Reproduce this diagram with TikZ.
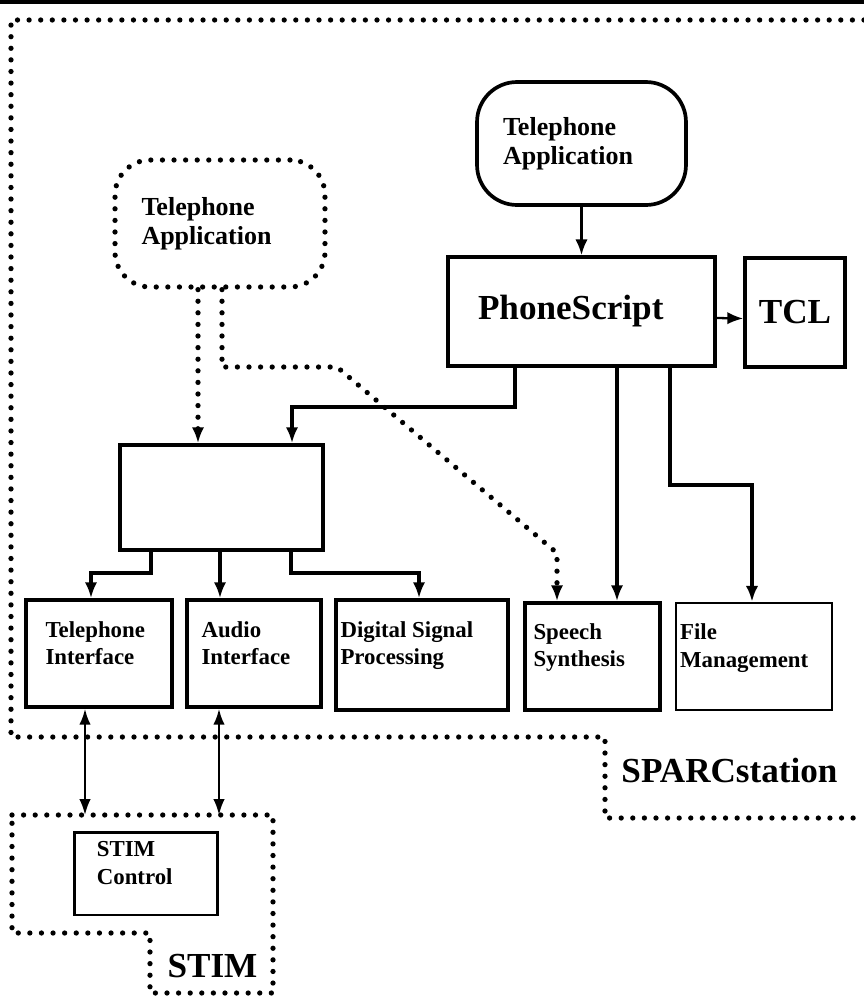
\documentclass[tikz,border=0pt]{standalone}
\usepackage{fontspec}
\setmainfont{Liberation Serif}
\usetikzlibrary{arrows.meta,positioning}

\begin{document}
\begin{tikzpicture}[x=0.02cm, y=-0.02cm, font=\bfseries,
		box_style/.style={rectangle,draw=black,line width=2.1pt,inner sep=0pt},
		app_style/.style={rectangle,draw=black,line width=2.1pt,rounded corners=0.8cm,inner sep=0pt,align=left,text width=3.14cm,font=\bfseries\fontsize{14.8}{16.5}\selectfont},
		txt_style/.style={inner sep=0pt,align=left,anchor=north west,font=\bfseries\fontsize{13}{15.4}\selectfont},
		big_style/.style={inner sep=0pt,font=\bfseries\fontsize{20}{24}\selectfont},
		dot_style/.style={line width=3pt,dash pattern=on 0pt off 6.6pt,line cap=round},
		edge_style/.style={draw=black,line width=1.9pt,-{Latex[length=9pt,width=7pt]}},
		thin_edge_style/.style={draw=black,line width=1.3pt,-{Latex[length=9pt,width=7pt]}},
		dedge_style/.style={dot_style,-{Latex[length=9pt,width=7pt]}},
		dbl_style/.style={draw=black,line width=1.3pt,{Latex[length=9pt,width=6.5pt]}-{Latex[length=9pt,width=6.5pt]}}]

	\useasboundingbox (0,0) rectangle (864,998);
	\draw[line width=2.6pt] (0,2) -- (864,2);

	% frames
	\draw[dot_style] (864,20) -- (11,20) -- (11,737) -- (605,737) -- (605,818) -- (864,818);
	\draw[dot_style] (12,815) -- (273,815) -- (273,993) -- (150,993) -- (150,933) -- (12,933) -- cycle;
	\coordinate (stim_top) at (12,815);
	\node[big_style] (sparc) at (729.5,770) {SPARCstation};
	\node[big_style] (stim) at (212.5,966) {STIM};

	% boxes
	\node[app_style,dot_style,rounded corners=0.7cm,minimum width=4.2cm,minimum height=2.54cm] (ta1) at (220,223.5) {Telephone\\Application};
	\node[app_style,minimum width=4.18cm,minimum height=2.46cm] (ta2) at (581.5,143.5) {Telephone\\Application};
	\node[box_style,big_style,minimum width=5.34cm,minimum height=2.18cm,text width=4.14cm,align=left] (ps) at (581.5,311.5) {PhoneScript};
	\node[box_style,big_style,minimum width=2cm,minimum height=2.18cm] (tcl) at (795,312.5) {TCL};
	\node[box_style,minimum width=4.06cm,minimum height=2.1cm] (mid) at (221.5,497.5) {};
	\node[box_style,minimum width=2.92cm,minimum height=2.14cm] (ti) at (99,653.5) {};
	\node[box_style,minimum width=2.68cm,minimum height=2.14cm] (ai) at (254,653.5) {};
	\node[box_style,minimum width=3.44cm,minimum height=2.2cm] (dsp) at (422,655) {};
	\node[box_style,minimum width=2.7cm,minimum height=2.14cm] (ss) at (592.5,656.5) {};
	\node[box_style,line width=1.4pt,minimum width=3.12cm,minimum height=2.14cm] (fm) at (754,656.5) {};
	\node[box_style,line width=1.7pt,minimum width=2.88cm,minimum height=1.66cm] (sc) at (146,873.5) {};

	% box texts
	\node[txt_style,below right=0.46cm and 0.42cm of ti.north west] (ti_txt) {Telephone\\Interface};
	\node[txt_style,below right=0.46cm and 0.32cm of ai.north west] (ai_txt) {Audio\\Interface};
	\node[txt_style,below right=0.46cm and 0.12cm of dsp.north west] (dsp_txt) {Digital Signal\\Processing};
	\node[txt_style,below right=0.44cm and 0.2cm of ss.north west] (ss_txt) {Speech\\Synthesis};
	\node[txt_style,below right=0.44cm and 0.1cm of fm.north west] (fm_txt) {File\\Management};
	\node[txt_style,below right=0.22cm and 0.48cm of sc.north west] (sc_txt) {STIM\\Control};

	% connectors
	\draw[thin_edge_style] (ta2) -- (ps);
	\draw[thin_edge_style] ([yshift=-0.13cm]ps.east) -- ([yshift=-0.12cm]tcl.west);
	\draw[edge_style] (ps.south -| 515,0) -- (515,407) -| (mid.north -| 292,0);
	\draw[edge_style] (ps.south -| 617,0) -- (ss.north -| 617,0);
	\draw[edge_style] (ps.south -| 670,0) -- (670,485) -| (fm.north -| 752,0);
	\draw[dedge_style] (ta1.south -| 198,0) -- (mid.north -| 198,0);
	\draw[dedge_style] (ta1.south -| 222,0) -- (222,367) -- (337,367) -- (557,553) -- (ss.north -| 557,0);
	\draw[edge_style] (mid.south -| 151,0) -- (151,573) -| (ti.north -| 91,0);
	\draw[edge_style] (mid.south -| 220,0) -- (ai.north -| 220,0);
	\draw[edge_style] (mid.south -| 291,0) -- (291,573) -| (dsp.north -| 419,0);
	\draw[dbl_style] (ti.south -| 85,0) -- (stim_top -| 85,0);
	\draw[dbl_style] (ai.south -| 219,0) -- (stim_top -| 219,0);
\end{tikzpicture}
\end{document}
